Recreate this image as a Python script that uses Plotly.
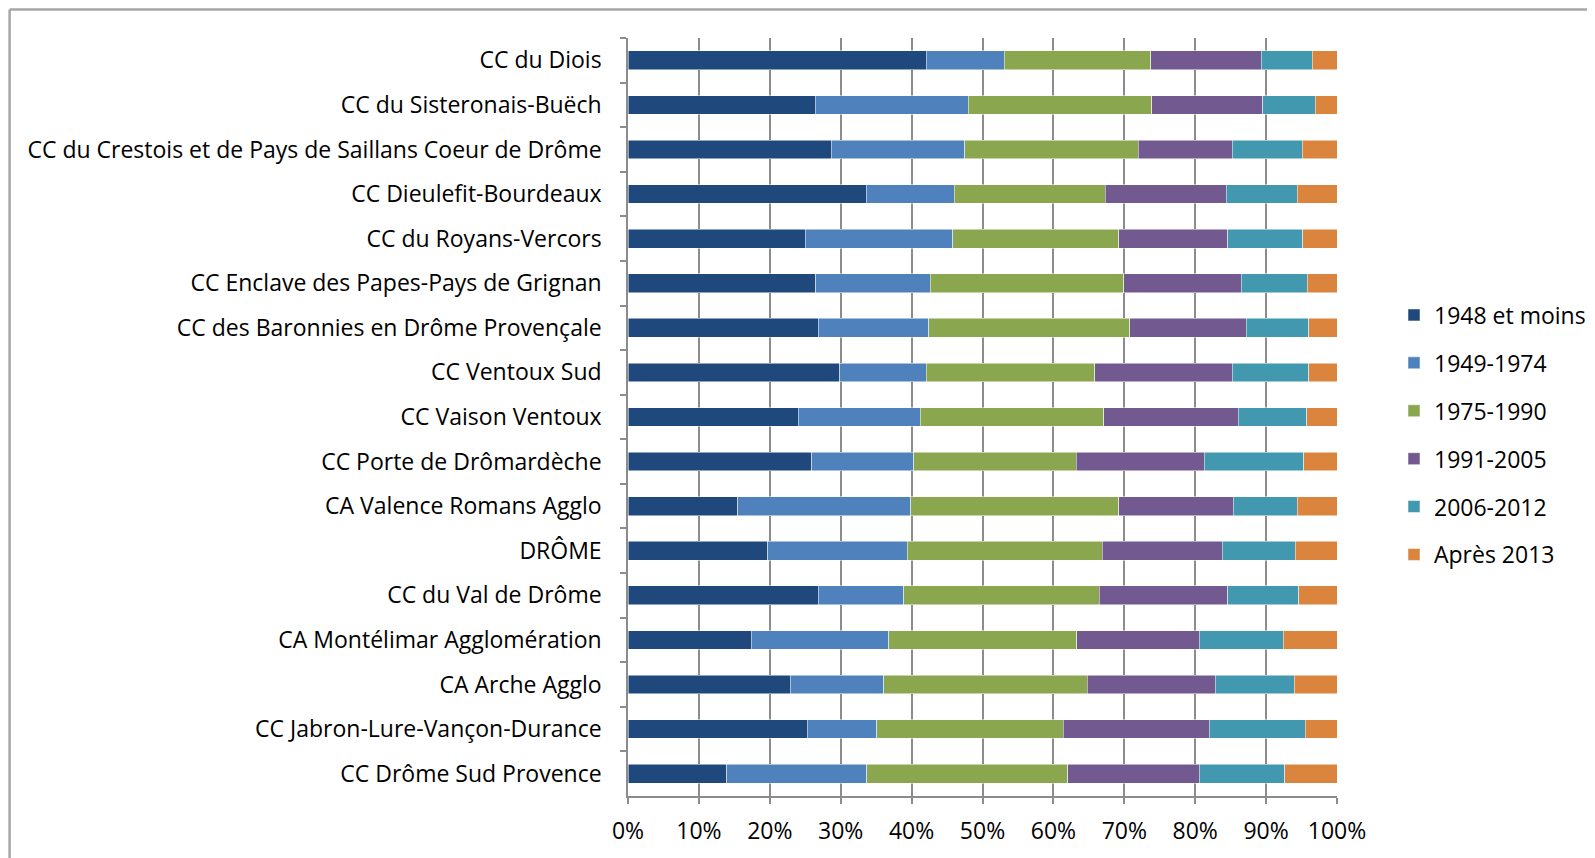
import plotly.graph_objects as go

categories = [
    "CC du Diois",
    "CC du Sisteronais-Buëch",
    "CC du Crestois et de Pays de Saillans Coeur de Drôme",
    "CC Dieulefit-Bourdeaux",
    "CC du Royans-Vercors",
    "CC Enclave des Papes-Pays de Grignan",
    "CC des Baronnies en Drôme Provençale",
    "CC Ventoux Sud",
    "CC Vaison Ventoux",
    "CC Porte de Drômardèche",
    "CA Valence Romans Agglo",
    "DRÔME",
    "CC du Val de Drôme",
    "CA Montélimar Agglomération",
    "CA Arche Agglo",
    "CC Jabron-Lure-Vançon-Durance",
    "CC Drôme Sud Provence",
]

series_names = ["1948 et moins", "1949-1974", "1975-1990", "1991-2005", "2006-2012", "Après 2013"]

s_1948 = [42.1, 26.4, 28.7, 33.6, 25.0, 26.5, 26.8, 29.9, 24.0, 25.9, 15.5, 19.7, 26.8, 17.4, 22.9, 25.3, 13.9]
s_1949 = [11.0, 21.6, 18.8, 12.4, 20.8, 16.1, 15.6, 12.2, 17.2, 14.4, 24.4, 19.7, 12.1, 19.4, 13.2, 9.8, 19.8]
s_1975 = [20.6, 25.9, 24.5, 21.3, 23.4, 27.3, 28.4, 23.7, 25.9, 22.9, 29.3, 27.5, 27.6, 26.5, 28.7, 26.3, 28.3]
s_1991 = [15.6, 15.6, 13.2, 17.1, 15.4, 16.6, 16.4, 19.4, 19.0, 18.1, 16.2, 16.9, 18.1, 17.3, 18.0, 20.6, 18.6]
s_2006 = [7.2, 7.4, 9.9, 10.0, 10.6, 9.3, 8.8, 10.8, 9.6, 14.0, 9.0, 10.3, 10.0, 11.8, 11.2, 13.5, 12.0]
s_2013 = [3.5, 3.1, 4.9, 5.6, 4.8, 4.2, 4.0, 4.0, 4.3, 4.7, 5.6, 5.9, 5.4, 7.6, 6.0, 4.5, 7.4]

x_ticks = [0, 10, 20, 30, 40, 50, 60, 70, 80, 90, 100]
x_tick_labels = ["0%", "10%", "20%", "30%", "40%", "50%", "60%", "70%", "80%", "90%", "100%"]

colors = ["#1F497D", "#4F81BD", "#8AA64E", "#725990", "#4198AF", "#DB843D"]

all_series = [s_1948, s_1949, s_1975, s_1991, s_2006, s_2013]

FONT = "Open Sans"
FS = 23

W, H = 1600, 850
ML, MR, MT, MB = 620, 271, 30, 62
PW = W - ML - MR
PH = H - MT - MB

fig = go.Figure()
for i, (name, vals) in enumerate(zip(series_names, all_series)):
    fig.add_trace(go.Bar(
        y=categories, x=vals, name=name, orientation="h",
        marker=dict(color=colors[i], line=dict(width=0.5, color="white")),
        legendgroup=f"g{i}",
    ))

fig.update_layout(
    barmode="stack",
    barnorm="percent",
    bargap=0.58,
    width=W, height=H,
    margin=dict(l=ML, r=MR, t=MT, b=MB, autoexpand=False),
    paper_bgcolor="white",
    plot_bgcolor="white",
    font=dict(family=FONT, size=FS, color="#000000"),
    showlegend=True,
    legend=dict(
        x=(1386 - ML) / PW, xanchor="left",
        y=(H - MB - 427) / PH, yanchor="middle",
        traceorder="grouped",
        tracegroupgap=15,
        font=dict(family=FONT, size=FS),
        itemwidth=30,
    ),
    xaxis=dict(
        range=[0, 100],
        tickvals=x_ticks, ticktext=x_tick_labels,
        showgrid=True, gridcolor="#8C8C8C", gridwidth=1.5,
        showline=True, linecolor="#8C8C8C", linewidth=1.5,
        ticks="outside", ticklen=6, tickcolor="#8C8C8C", tickwidth=1.5,
        ticklabelstandoff=8,
        zeroline=False,
        fixedrange=True,
        automargin=False,
    ),
    yaxis=dict(
        autorange="reversed",
        showline=True, linecolor="#8C8C8C", linewidth=1.5,
        ticks="outside", ticklen=6, tickcolor="#8C8C8C", tickwidth=1.5,
        tickson="boundaries",
        ticklabelstandoff=20,
        showgrid=False,
        fixedrange=True,
        automargin=False,
    ),
)

# outer frame (top and left edges visible)
fig.add_shape(type="line", xref="paper", yref="paper",
              x0=(1.6 - ML) / PW, x1=(W + 10 - ML) / PW,
              y0=(H - MB - 1.6) / PH, y1=(H - MB - 1.6) / PH,
              line=dict(color="#A6A6A6", width=2.5))
fig.add_shape(type="line", xref="paper", yref="paper",
              x0=(1.6 - ML) / PW, x1=(1.6 - ML) / PW,
              y0=(H - MB - 1.6) / PH, y1=-0.2,
              line=dict(color="#A6A6A6", width=2.5))

fig.write_html("out.html")
